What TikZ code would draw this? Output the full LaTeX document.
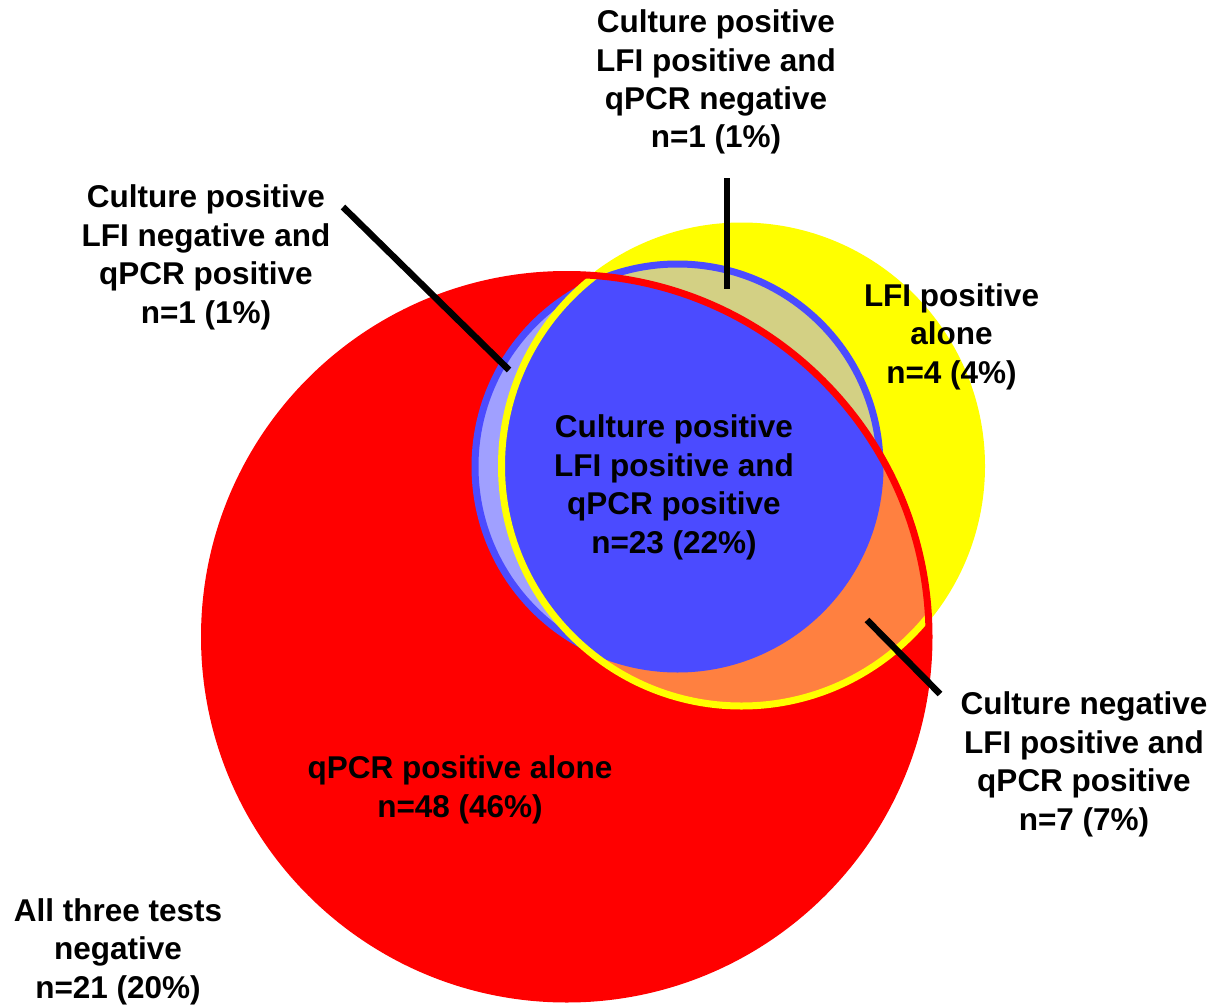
\documentclass[tikz,border=0pt]{standalone}
\usepackage{fontspec}
\setmainfont{Liberation Sans}
\definecolor{cRed}{HTML}{FF0000}
\definecolor{cYel}{HTML}{FFFF00}
\definecolor{cBlue}{HTML}{4B4BFF}
\definecolor{cLav}{HTML}{A0A0FF}
\definecolor{cKhaki}{HTML}{D3D084}
\definecolor{cOrange}{HTML}{FF8040}
\begin{document}
\begin{tikzpicture}[x=1pt,y=-1pt,
  lbl/.style={align=center,inner sep=0pt,anchor=base,
    font=\fontsize{31.5pt}{38.5pt}\selectfont\bfseries},
  leader/.style={draw=black,line width=6.5pt},
  rimR/.style={draw=cRed,line width=7pt},
  rimY/.style={draw=cYel,line width=7pt},
  rimB/.style={draw=cBlue,line width=7pt}]
\useasboundingbox (0,0) rectangle (1226,1006);
\fill[white] (0,0) rectangle (1226,1006);
% circle centres
\coordinate (R) at (566.75,636.75);
\coordinate (Y) at (741.5,466);
\coordinate (B) at (677.5,466.5);
\def\rR{362.25pt}\def\rY{240pt}\def\rB{202.5pt}
% base fills
\fill[cRed] (R) circle[radius=\rR];
\fill[cYel] (Y) circle[radius=\rY];
\begin{scope}
  \clip (R) circle[radius=\rR];
  \fill[cOrange] (Y) circle[radius=\rY];
\end{scope}
\fill[cKhaki] (B) circle[radius=\rB];
\begin{scope}
  \clip (R) circle[radius=\rR];
  \fill[cLav] (B) circle[radius=\rB];
  \clip (Y) circle[radius=\rY];
  \fill[cBlue] (B) circle[radius=\rB];
\end{scope}
% outlines
\draw[rimB] (B) circle[radius=\rB];
\draw[rimY] (Y) circle[radius=\rY];
\draw[rimR] (R) circle[radius=\rR];
% labels
\node[lbl] (ccn) at (716,148) {Culture positive\\LFI positive and\\qPCR negative\\n=1 (1\%)};
\node[lbl] (cnq) at (206,323) {Culture positive\\LFI negative and\\qPCR positive\\n=1 (1\%)};
\node[lbl] (lfi) at (951.5,383) {LFI positive\\alone\\n=4 (4\%)};
\node[lbl] (all) at (674,553) {Culture positive\\LFI positive and\\qPCR positive\\n=23 (22\%)};
\node[lbl] (neg) at (1084,830) {Culture negative\\LFI positive and\\qPCR positive\\n=7 (7\%)};
\node[lbl] (qpc) at (460,817) {qPCR positive alone\\n=48 (46\%)};
\node[lbl] (non) at (118,998) {All three tests\\negative\\n=21 (20\%)};
% leaders
\coordinate (t1) at (727,178); \coordinate (t2) at (727,289);
\coordinate (l1) at (343,207); \coordinate (l2) at (509,370);
\coordinate (r1) at (867,620); \coordinate (r2) at (940,694);
\draw[leader] (t1) -- (t2);
\draw[leader] (l1) -- (l2);
\draw[leader] (r1) -- (r2);
\end{tikzpicture}
\end{document}
